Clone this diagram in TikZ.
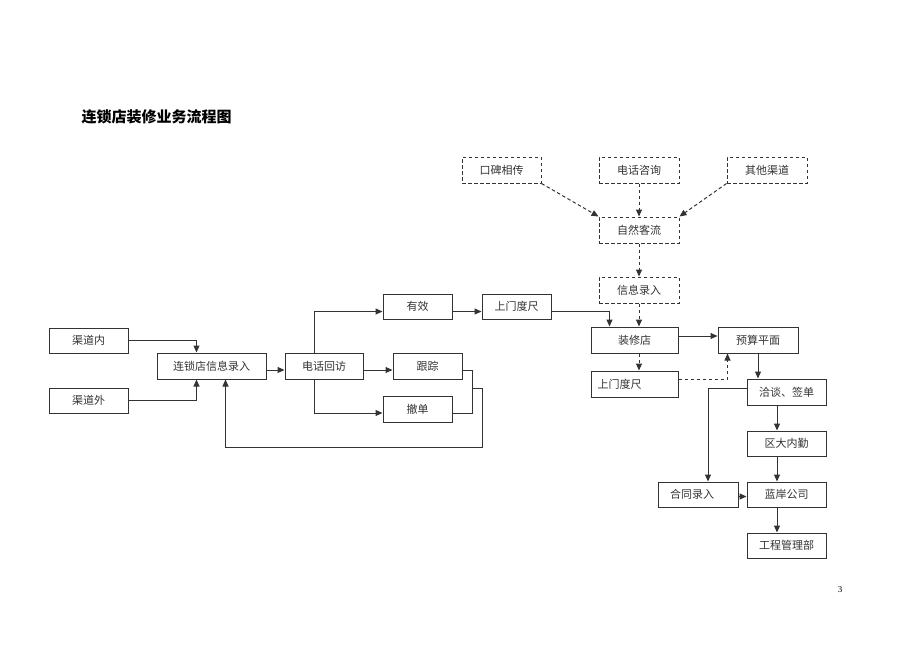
\documentclass[tikz,border=0pt]{standalone}
\usepackage{fontspec}
\setmainfont{Liberation Serif}
\newfontfamily\cjk{Noto Sans CJK SC}
\usetikzlibrary{arrows.meta,calc}
\definecolor{ln}{gray}{0.2}
\tikzset{
  box/.style={draw=ln, line width=1pt, minimum height=26pt, inner sep=0pt, font=\cjk\fontsize{11}{13}\selectfont, text=black!80},
  dbox/.style={box, dash pattern=on 3.5pt off 2.5pt},
  arr/.style={draw=ln, line width=1pt, -{Triangle[length=7pt,width=6pt]}},
  darr/.style={arr, dash pattern=on 3.5pt off 2.5pt},
  ln/.style={draw=ln, line width=1pt}
}
\begin{document}
\begin{tikzpicture}[x=1pt,y=-1pt]
\useasboundingbox (0,0) rectangle (920,651);
\node[anchor=west, font=\cjk\bfseries\fontsize{15}{17}\selectfont] (title) at (78,117) {连锁店装修业务流程图};
\node[font=\fontsize{9}{10}\selectfont] (pg) at (840,590) {3};
% top dashed
\node[dbox, minimum width=79pt] (kb) at (501.5,170) {口碑相传};
\node[dbox, minimum width=80pt] (dh) at (639,170) {电话咨询};
\node[dbox, minimum width=80pt] (qt) at (767,170) {其他渠道};
\node[dbox, minimum width=80pt] (zr) at (639,230) {自然客流};
\node[dbox, minimum width=80pt] (xx) at (639,290) {信息录入};
% right part
\node[box, minimum width=69pt, minimum height=25pt] (smtop) at (516.5,306.5) {上门度尺};
\node[box, minimum width=87pt] (zxd) at (634.5,340) {装修店};
\node[box, minimum width=80pt] (ys) at (758,340) {预算平面};
\node[box, minimum width=87pt] (smlow) at (634.5,384) {\hspace*{-30pt}上门度尺};
\node[box, minimum width=79pt] (qt2) at (786.5,392) {洽谈、签单};
\node[box, minimum width=79pt, minimum height=25pt] (qd) at (786.5,443.5) {区大内勤};
\node[box, minimum width=79pt, minimum height=25pt] (la) at (786.5,494.5) {蓝岸公司};
\node[box, minimum width=79pt, minimum height=25pt] (gc) at (786.5,545.5) {工程管理部};
\node[box, minimum width=80pt, minimum height=25pt] (ht) at (698,494.5) {\hspace*{-12pt}合同录入};
% left part
\node[box, minimum width=79pt, minimum height=25pt] (qdn) at (88.5,340.5) {渠道内};
\node[box, minimum width=79pt, minimum height=25pt] (qdw) at (88.5,400.5) {渠道外};
\node[box, minimum width=109pt] (ls) at (211.5,366) {连锁店信息录入};
\node[box, minimum width=78pt] (dhhf) at (324,366) {电话回访};
\node[box, minimum width=69pt, minimum height=25pt] (yx) at (417.5,306.5) {有效};
\node[box, minimum width=69pt] (gz) at (427.5,366) {跟踪};
\node[box, minimum width=69pt] (cd) at (417.5,409) {撤单};
% dashed connectors
\draw[darr] (kb.south east) -- (zr.north west);
\draw[darr] (dh.south) -- (zr.north);
\draw[darr] (qt.south west) -- (zr.north east);
\draw[darr] (zr.south) -- (xx.north);
\draw[darr] (xx.south) -- (xx.south |- zxd.north);
\draw[darr] ([xshift=4.5pt]zxd.south) -- ([xshift=4.5pt]smlow.north);
\draw[darr] ([yshift=5pt]smlow.east) -| ([xshift=10pt]ys.south west);
% solid connectors right
\draw[arr] ([yshift=-5pt]yx.east) -- ([yshift=-5pt]smtop.west);
\draw[arr] ([yshift=-5pt]smtop.east) -| ([xshift=19pt]zxd.north west);
\draw[arr] ([yshift=4pt]zxd.east) -- ([yshift=4pt]ys.west);
\draw[arr] (ys.south) -- (ys.south |- qt2.north);
\draw[arr] ([yshift=4pt]qt2.west) -| ([xshift=10pt]ht.north);
\draw[arr] ([xshift=-9.5pt]qt2.south) -- ([xshift=-9.5pt]qd.north);
\draw[arr] ([xshift=-9.5pt]qd.south) -- ([xshift=-9.5pt]la.north);
\draw[arr] ([xshift=-9.5pt]la.south) -- ([xshift=-9.5pt]gc.north);
\draw[arr] ([yshift=-2pt]ht.east) -- ([yshift=-2pt]la.west);
% left connectors
\draw[arr] (qdn.east) -| ([xshift=40pt]ls.north west);
\draw[arr] (qdw.east) -| ([xshift=40pt]ls.south west);
\draw[arr] ([yshift=-4pt]ls.east) -- ([yshift=-4pt]dhhf.west);
\draw[arr] ([yshift=-4pt]dhhf.east) -- ([yshift=-4pt]gz.west);
\draw[arr] ([xshift=-10pt]dhhf.north) |- ([yshift=-5pt]yx.west);
\draw[arr] ([xshift=-10pt]dhhf.south) |- ([yshift=-4pt]cd.west);
\draw[ln] ([yshift=-4pt]gz.east) -- ++(10,0) |- ([yshift=-4pt]cd.east);
\coordinate (j) at ($(gz.east)+(10,22)$);
\draw[arr] (j) -- ++(10,0) -- ++(0,59) -| ([xshift=69pt]ls.south west);
\end{tikzpicture}
\end{document}
